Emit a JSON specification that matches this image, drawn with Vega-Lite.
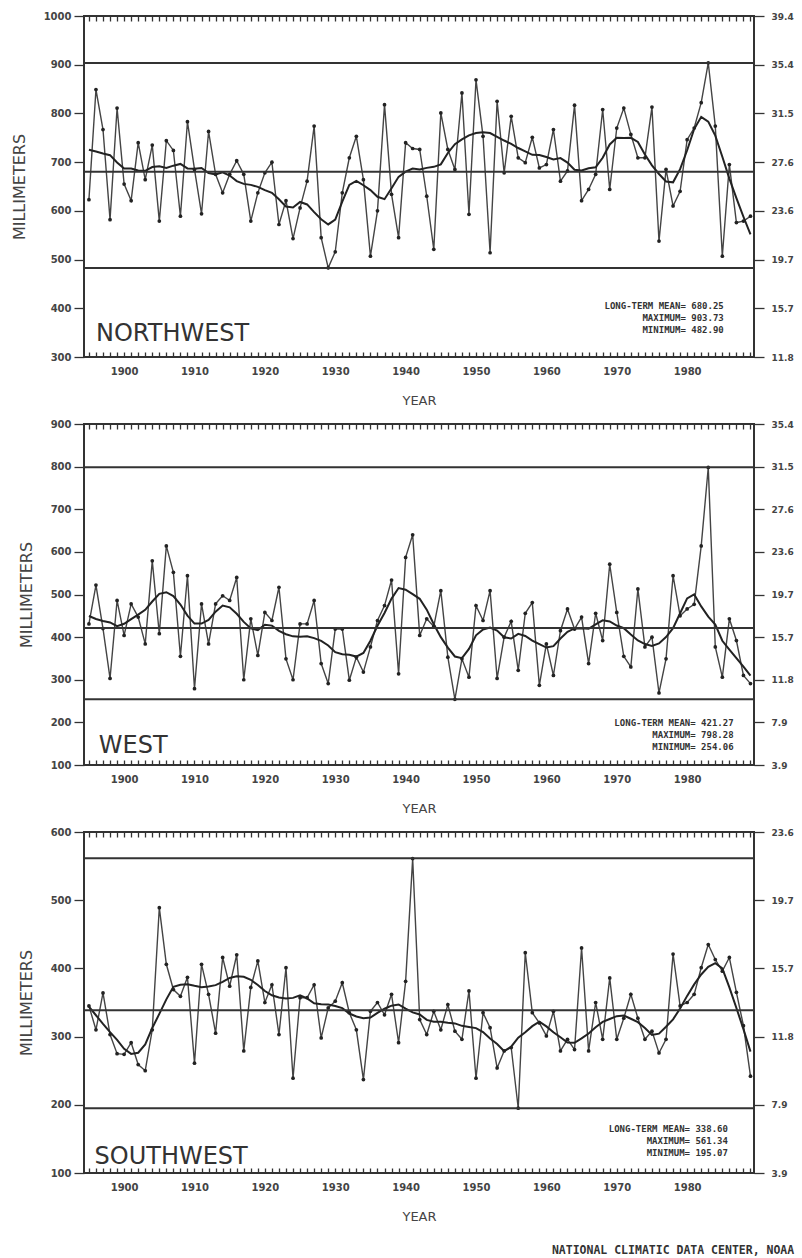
{
  "$schema": "https://vega.github.io/schema/vega-lite/v6.json",
  "background": "white",
  "padding": {"left": 10, "top": 10, "right": 5, "bottom": 5},
  "spacing": 10,
  "title": {"text": "NATIONAL CLIMATIC DATA CENTER, NOAA", "orient": "bottom", "anchor": "end", "font": "DejaVu Sans Mono", "fontSize": 11.5, "fontWeight": "bold", "color": "#333", "offset": 21},
  "datasets": {
    "annual": [
      {"region":"NW","year":1895,"mm":623},{"region":"NW","year":1896,"mm":849},{"region":"NW","year":1897,"mm":767},{"region":"NW","year":1898,"mm":582},{"region":"NW","year":1899,"mm":811},
      {"region":"NW","year":1900,"mm":655},{"region":"NW","year":1901,"mm":621},{"region":"NW","year":1902,"mm":740},{"region":"NW","year":1903,"mm":664},{"region":"NW","year":1904,"mm":735},
      {"region":"NW","year":1905,"mm":579},{"region":"NW","year":1906,"mm":744},{"region":"NW","year":1907,"mm":724},{"region":"NW","year":1908,"mm":589},{"region":"NW","year":1909,"mm":783},
      {"region":"NW","year":1910,"mm":685},{"region":"NW","year":1911,"mm":594},{"region":"NW","year":1912,"mm":763},{"region":"NW","year":1913,"mm":675},{"region":"NW","year":1914,"mm":637},
      {"region":"NW","year":1915,"mm":675},{"region":"NW","year":1916,"mm":703},{"region":"NW","year":1917,"mm":675},{"region":"NW","year":1918,"mm":579},{"region":"NW","year":1919,"mm":637},
      {"region":"NW","year":1920,"mm":678},{"region":"NW","year":1921,"mm":700},{"region":"NW","year":1922,"mm":572},{"region":"NW","year":1923,"mm":621},{"region":"NW","year":1924,"mm":543},
      {"region":"NW","year":1925,"mm":606},{"region":"NW","year":1926,"mm":661},{"region":"NW","year":1927,"mm":774},{"region":"NW","year":1928,"mm":545},{"region":"NW","year":1929,"mm":483},
      {"region":"NW","year":1930,"mm":516},{"region":"NW","year":1931,"mm":637},{"region":"NW","year":1932,"mm":709},{"region":"NW","year":1933,"mm":753},{"region":"NW","year":1934,"mm":664},
      {"region":"NW","year":1935,"mm":507},{"region":"NW","year":1936,"mm":600},{"region":"NW","year":1937,"mm":818},{"region":"NW","year":1938,"mm":634},{"region":"NW","year":1939,"mm":545},
      {"region":"NW","year":1940,"mm":740},{"region":"NW","year":1941,"mm":728},{"region":"NW","year":1942,"mm":726},{"region":"NW","year":1943,"mm":630},{"region":"NW","year":1944,"mm":521},
      {"region":"NW","year":1945,"mm":801},{"region":"NW","year":1946,"mm":726},{"region":"NW","year":1947,"mm":685},{"region":"NW","year":1948,"mm":842},{"region":"NW","year":1949,"mm":593},
      {"region":"NW","year":1950,"mm":869},{"region":"NW","year":1951,"mm":753},{"region":"NW","year":1952,"mm":514},{"region":"NW","year":1953,"mm":825},{"region":"NW","year":1954,"mm":678},
      {"region":"NW","year":1955,"mm":794},{"region":"NW","year":1956,"mm":709},{"region":"NW","year":1957,"mm":699},{"region":"NW","year":1958,"mm":751},{"region":"NW","year":1959,"mm":688},
      {"region":"NW","year":1960,"mm":695},{"region":"NW","year":1961,"mm":767},{"region":"NW","year":1962,"mm":661},{"region":"NW","year":1963,"mm":682},{"region":"NW","year":1964,"mm":817},
      {"region":"NW","year":1965,"mm":621},{"region":"NW","year":1966,"mm":644},{"region":"NW","year":1967,"mm":675},{"region":"NW","year":1968,"mm":808},{"region":"NW","year":1969,"mm":644},
      {"region":"NW","year":1970,"mm":770},{"region":"NW","year":1971,"mm":811},{"region":"NW","year":1972,"mm":757},{"region":"NW","year":1973,"mm":709},{"region":"NW","year":1974,"mm":709},
      {"region":"NW","year":1975,"mm":813},{"region":"NW","year":1976,"mm":538},{"region":"NW","year":1977,"mm":685},{"region":"NW","year":1978,"mm":610},{"region":"NW","year":1979,"mm":640},
      {"region":"NW","year":1980,"mm":746},{"region":"NW","year":1981,"mm":770},{"region":"NW","year":1982,"mm":822},{"region":"NW","year":1983,"mm":904},{"region":"NW","year":1984,"mm":774},
      {"region":"NW","year":1985,"mm":507},{"region":"NW","year":1986,"mm":695},{"region":"NW","year":1987,"mm":576},{"region":"NW","year":1988,"mm":579},{"region":"NW","year":1989,"mm":589},

      {"region":"W","year":1895,"mm":431},{"region":"W","year":1896,"mm":522},{"region":"W","year":1897,"mm":420},{"region":"W","year":1898,"mm":303},{"region":"W","year":1899,"mm":486},
      {"region":"W","year":1900,"mm":404},{"region":"W","year":1901,"mm":478},{"region":"W","year":1902,"mm":447},{"region":"W","year":1903,"mm":384},{"region":"W","year":1904,"mm":579},
      {"region":"W","year":1905,"mm":408},{"region":"W","year":1906,"mm":614},{"region":"W","year":1907,"mm":552},{"region":"W","year":1908,"mm":355},{"region":"W","year":1909,"mm":544},
      {"region":"W","year":1910,"mm":279},{"region":"W","year":1911,"mm":478},{"region":"W","year":1912,"mm":384},{"region":"W","year":1913,"mm":478},{"region":"W","year":1914,"mm":497},
      {"region":"W","year":1915,"mm":486},{"region":"W","year":1916,"mm":540},{"region":"W","year":1917,"mm":300},{"region":"W","year":1918,"mm":443},{"region":"W","year":1919,"mm":357},
      {"region":"W","year":1920,"mm":458},{"region":"W","year":1921,"mm":439},{"region":"W","year":1922,"mm":517},{"region":"W","year":1923,"mm":349},{"region":"W","year":1924,"mm":300},
      {"region":"W","year":1925,"mm":431},{"region":"W","year":1926,"mm":431},{"region":"W","year":1927,"mm":486},{"region":"W","year":1928,"mm":338},{"region":"W","year":1929,"mm":291},
      {"region":"W","year":1930,"mm":419},{"region":"W","year":1931,"mm":419},{"region":"W","year":1932,"mm":299},{"region":"W","year":1933,"mm":353},{"region":"W","year":1934,"mm":318},
      {"region":"W","year":1935,"mm":377},{"region":"W","year":1936,"mm":439},{"region":"W","year":1937,"mm":474},{"region":"W","year":1938,"mm":534},{"region":"W","year":1939,"mm":314},
      {"region":"W","year":1940,"mm":587},{"region":"W","year":1941,"mm":640},{"region":"W","year":1942,"mm":404},{"region":"W","year":1943,"mm":443},{"region":"W","year":1944,"mm":425},
      {"region":"W","year":1945,"mm":509},{"region":"W","year":1946,"mm":353},{"region":"W","year":1947,"mm":254},{"region":"W","year":1948,"mm":349},{"region":"W","year":1949,"mm":306},
      {"region":"W","year":1950,"mm":474},{"region":"W","year":1951,"mm":439},{"region":"W","year":1952,"mm":509},{"region":"W","year":1953,"mm":303},{"region":"W","year":1954,"mm":400},
      {"region":"W","year":1955,"mm":437},{"region":"W","year":1956,"mm":322},{"region":"W","year":1957,"mm":456},{"region":"W","year":1958,"mm":481},{"region":"W","year":1959,"mm":287},
      {"region":"W","year":1960,"mm":384},{"region":"W","year":1961,"mm":310},{"region":"W","year":1962,"mm":415},{"region":"W","year":1963,"mm":466},{"region":"W","year":1964,"mm":419},
      {"region":"W","year":1965,"mm":447},{"region":"W","year":1966,"mm":338},{"region":"W","year":1967,"mm":456},{"region":"W","year":1968,"mm":392},{"region":"W","year":1969,"mm":571},
      {"region":"W","year":1970,"mm":458},{"region":"W","year":1971,"mm":355},{"region":"W","year":1972,"mm":330},{"region":"W","year":1973,"mm":513},{"region":"W","year":1974,"mm":377},
      {"region":"W","year":1975,"mm":400},{"region":"W","year":1976,"mm":269},{"region":"W","year":1977,"mm":349},{"region":"W","year":1978,"mm":544},{"region":"W","year":1979,"mm":450},
      {"region":"W","year":1980,"mm":466},{"region":"W","year":1981,"mm":477},{"region":"W","year":1982,"mm":614},{"region":"W","year":1983,"mm":798},{"region":"W","year":1984,"mm":377},
      {"region":"W","year":1985,"mm":306},{"region":"W","year":1986,"mm":443},{"region":"W","year":1987,"mm":392},{"region":"W","year":1988,"mm":310},{"region":"W","year":1989,"mm":291},

      {"region":"SW","year":1895,"mm":345},{"region":"SW","year":1896,"mm":310},{"region":"SW","year":1897,"mm":364},{"region":"SW","year":1898,"mm":303},{"region":"SW","year":1899,"mm":275},
      {"region":"SW","year":1900,"mm":274},{"region":"SW","year":1901,"mm":291},{"region":"SW","year":1902,"mm":259},{"region":"SW","year":1903,"mm":250},{"region":"SW","year":1904,"mm":310},
      {"region":"SW","year":1905,"mm":489},{"region":"SW","year":1906,"mm":406},{"region":"SW","year":1907,"mm":369},{"region":"SW","year":1908,"mm":359},{"region":"SW","year":1909,"mm":387},
      {"region":"SW","year":1910,"mm":261},{"region":"SW","year":1911,"mm":406},{"region":"SW","year":1912,"mm":362},{"region":"SW","year":1913,"mm":305},{"region":"SW","year":1914,"mm":416},
      {"region":"SW","year":1915,"mm":374},{"region":"SW","year":1916,"mm":420},{"region":"SW","year":1917,"mm":279},{"region":"SW","year":1918,"mm":372},{"region":"SW","year":1919,"mm":411},
      {"region":"SW","year":1920,"mm":350},{"region":"SW","year":1921,"mm":376},{"region":"SW","year":1922,"mm":303},{"region":"SW","year":1923,"mm":401},{"region":"SW","year":1924,"mm":239},
      {"region":"SW","year":1925,"mm":357},{"region":"SW","year":1926,"mm":357},{"region":"SW","year":1927,"mm":376},{"region":"SW","year":1928,"mm":298},{"region":"SW","year":1929,"mm":342},
      {"region":"SW","year":1930,"mm":352},{"region":"SW","year":1931,"mm":379},{"region":"SW","year":1932,"mm":335},{"region":"SW","year":1933,"mm":310},{"region":"SW","year":1934,"mm":237},
      {"region":"SW","year":1935,"mm":337},{"region":"SW","year":1936,"mm":350},{"region":"SW","year":1937,"mm":332},{"region":"SW","year":1938,"mm":362},{"region":"SW","year":1939,"mm":291},
      {"region":"SW","year":1940,"mm":381},{"region":"SW","year":1941,"mm":561},{"region":"SW","year":1942,"mm":325},{"region":"SW","year":1943,"mm":303},{"region":"SW","year":1944,"mm":337},
      {"region":"SW","year":1945,"mm":310},{"region":"SW","year":1946,"mm":347},{"region":"SW","year":1947,"mm":308},{"region":"SW","year":1948,"mm":296},{"region":"SW","year":1949,"mm":367},
      {"region":"SW","year":1950,"mm":239},{"region":"SW","year":1951,"mm":335},{"region":"SW","year":1952,"mm":313},{"region":"SW","year":1953,"mm":254},{"region":"SW","year":1954,"mm":279},
      {"region":"SW","year":1955,"mm":284},{"region":"SW","year":1956,"mm":195},{"region":"SW","year":1957,"mm":423},{"region":"SW","year":1958,"mm":335},{"region":"SW","year":1959,"mm":320},
      {"region":"SW","year":1960,"mm":301},{"region":"SW","year":1961,"mm":337},{"region":"SW","year":1962,"mm":279},{"region":"SW","year":1963,"mm":296},{"region":"SW","year":1964,"mm":281},
      {"region":"SW","year":1965,"mm":430},{"region":"SW","year":1966,"mm":279},{"region":"SW","year":1967,"mm":350},{"region":"SW","year":1968,"mm":296},{"region":"SW","year":1969,"mm":386},
      {"region":"SW","year":1970,"mm":296},{"region":"SW","year":1971,"mm":327},{"region":"SW","year":1972,"mm":362},{"region":"SW","year":1973,"mm":327},{"region":"SW","year":1974,"mm":296},
      {"region":"SW","year":1975,"mm":308},{"region":"SW","year":1976,"mm":276},{"region":"SW","year":1977,"mm":296},{"region":"SW","year":1978,"mm":421},{"region":"SW","year":1979,"mm":345},
      {"region":"SW","year":1980,"mm":350},{"region":"SW","year":1981,"mm":362},{"region":"SW","year":1982,"mm":401},{"region":"SW","year":1983,"mm":435},{"region":"SW","year":1984,"mm":413},
      {"region":"SW","year":1985,"mm":396},{"region":"SW","year":1986,"mm":416},{"region":"SW","year":1987,"mm":365},{"region":"SW","year":1988,"mm":316},{"region":"SW","year":1989,"mm":242}
    ]
  },
  "vconcat": [
    {
      "width": 670, "height": 341,
      "layer": [
        {"data": {"name": "annual"}, "transform": [{"filter": "datum.region === 'NW'"}],
         "mark": {"type": "line", "color": "#444", "strokeWidth": 1.4},
         "encoding": {
           "x": {"field": "year", "type": "quantitative", "scale": {"domain": [1894.3, 1989.5], "nice": false, "zero": false},
                 "axis": {"orient": "bottom", "values": [1895,1896,1897,1898,1899,1900,1901,1902,1903,1904,1905,1906,1907,1908,1909,1910,1911,1912,1913,1914,1915,1916,1917,1918,1919,1920,1921,1922,1923,1924,1925,1926,1927,1928,1929,1930,1931,1932,1933,1934,1935,1936,1937,1938,1939,1940,1941,1942,1943,1944,1945,1946,1947,1948,1949,1950,1951,1952,1953,1954,1955,1956,1957,1958,1959,1960,1961,1962,1963,1964,1965,1966,1967,1968,1969,1970,1971,1972,1973,1974,1975,1976,1977,1978,1979,1980,1981,1982,1983,1984,1985,1986,1987,1988,1989],
                          "labelExpr": "datum.value % 10 === 0 ? toString(datum.value) : ''", "tickSize": -5, "title": "YEAR", "domain": false, "grid": false, "labelOverlap": false, "labelFlush": false}},
           "y": {"field": "mm", "type": "quantitative", "scale": {"domain": [300, 1000], "nice": false, "zero": false},
                 "axis": {"orient": "left", "values": [300,400,500,600,700,800,900,1000], "format": "d", "tickSize": 10, "title": "MILLIMETERS", "domain": false, "grid": false}}
         }},
        {"data": {"name": "annual"}, "transform": [{"filter": "datum.region === 'NW'"}],
         "mark": {"type": "point", "filled": true, "size": 14, "color": "#222", "opacity": 1},
         "encoding": {
           "x": {"field": "year", "type": "quantitative",
                 "axis": {"orient": "top", "values": [1895,1896,1897,1898,1899,1900,1901,1902,1903,1904,1905,1906,1907,1908,1909,1910,1911,1912,1913,1914,1915,1916,1917,1918,1919,1920,1921,1922,1923,1924,1925,1926,1927,1928,1929,1930,1931,1932,1933,1934,1935,1936,1937,1938,1939,1940,1941,1942,1943,1944,1945,1946,1947,1948,1949,1950,1951,1952,1953,1954,1955,1956,1957,1958,1959,1960,1961,1962,1963,1964,1965,1966,1967,1968,1969,1970,1971,1972,1973,1974,1975,1976,1977,1978,1979,1980,1981,1982,1983,1984,1985,1986,1987,1988,1989],
                          "labels": false, "tickSize": -5, "title": null, "domain": false, "grid": false}},
           "y": {"field": "mm", "type": "quantitative", "axis": null}
         }},
        {"data": {"name": "annual"}, "transform": [{"filter": "datum.region === 'NW'"}, {"loess": "mm", "on": "year", "bandwidth": 0.1}],
         "mark": {"type": "line", "color": "#222", "strokeWidth": 2},
         "encoding": {"x": {"field": "year", "type": "quantitative", "axis": null}, "y": {"field": "mm", "type": "quantitative", "axis": null}}},
        {"data": {"values": [{"stat": "mean", "mm": 680.25}, {"stat": "max", "mm": 903.73}, {"stat": "min", "mm": 482.90}]},
         "mark": {"type": "rule", "color": "#333", "strokeWidth": 2},
         "encoding": {"y": {"field": "mm", "type": "quantitative",
                 "axis": {"orient": "right", "values": [300,400,500,600,700,800,900,1000], "labelExpr": "format(datum.value / 25.4, '.1f')", "tickSize": 10, "title": null, "domain": false, "grid": false}}}},
        {"data": {"values": [{}]},
         "mark": {"type": "text", "align": "left", "baseline": "alphabetic", "font": "DejaVu Sans", "fontSize": 24, "color": "#333", "text": "NORTHWEST"},
         "encoding": {"x": {"datum": 1896, "type": "quantitative", "axis": null}, "y": {"datum": 333, "type": "quantitative", "axis": null}}},
        {"data": {"values": [{}]},
         "mark": {"type": "text", "align": "right", "baseline": "top", "font": "DejaVu Sans Mono", "fontSize": 9, "fontWeight": "bold", "lineHeight": 12, "color": "#333",
                  "text": ["LONG-TERM MEAN= 680.25", "MAXIMUM= 903.73", "MINIMUM= 482.90"]},
         "encoding": {"x": {"datum": 1985.2, "type": "quantitative", "axis": null}, "y": {"datum": 413, "type": "quantitative", "axis": null}}}
      ],
      "resolve": {"axis": {"x": "independent", "y": "independent"}}
    },
    {
      "width": 670, "height": 341,
      "layer": [
        {"data": {"name": "annual"}, "transform": [{"filter": "datum.region === 'W'"}],
         "mark": {"type": "line", "color": "#444", "strokeWidth": 1.4},
         "encoding": {
           "x": {"field": "year", "type": "quantitative", "scale": {"domain": [1894.3, 1989.5], "nice": false, "zero": false},
                 "axis": {"orient": "bottom", "values": [1895,1896,1897,1898,1899,1900,1901,1902,1903,1904,1905,1906,1907,1908,1909,1910,1911,1912,1913,1914,1915,1916,1917,1918,1919,1920,1921,1922,1923,1924,1925,1926,1927,1928,1929,1930,1931,1932,1933,1934,1935,1936,1937,1938,1939,1940,1941,1942,1943,1944,1945,1946,1947,1948,1949,1950,1951,1952,1953,1954,1955,1956,1957,1958,1959,1960,1961,1962,1963,1964,1965,1966,1967,1968,1969,1970,1971,1972,1973,1974,1975,1976,1977,1978,1979,1980,1981,1982,1983,1984,1985,1986,1987,1988,1989],
                          "labelExpr": "datum.value % 10 === 0 ? toString(datum.value) : ''", "tickSize": -5, "title": "YEAR", "domain": false, "grid": false, "labelOverlap": false, "labelFlush": false}},
           "y": {"field": "mm", "type": "quantitative", "scale": {"domain": [100, 900], "nice": false, "zero": false},
                 "axis": {"orient": "left", "values": [100,200,300,400,500,600,700,800,900], "format": "d", "tickSize": 10, "title": "MILLIMETERS", "domain": false, "grid": false}}
         }},
        {"data": {"name": "annual"}, "transform": [{"filter": "datum.region === 'W'"}],
         "mark": {"type": "point", "filled": true, "size": 14, "color": "#222", "opacity": 1},
         "encoding": {
           "x": {"field": "year", "type": "quantitative",
                 "axis": {"orient": "top", "values": [1895,1896,1897,1898,1899,1900,1901,1902,1903,1904,1905,1906,1907,1908,1909,1910,1911,1912,1913,1914,1915,1916,1917,1918,1919,1920,1921,1922,1923,1924,1925,1926,1927,1928,1929,1930,1931,1932,1933,1934,1935,1936,1937,1938,1939,1940,1941,1942,1943,1944,1945,1946,1947,1948,1949,1950,1951,1952,1953,1954,1955,1956,1957,1958,1959,1960,1961,1962,1963,1964,1965,1966,1967,1968,1969,1970,1971,1972,1973,1974,1975,1976,1977,1978,1979,1980,1981,1982,1983,1984,1985,1986,1987,1988,1989],
                          "labels": false, "tickSize": -5, "title": null, "domain": false, "grid": false}},
           "y": {"field": "mm", "type": "quantitative", "axis": null}
         }},
        {"data": {"name": "annual"}, "transform": [{"filter": "datum.region === 'W'"}, {"loess": "mm", "on": "year", "bandwidth": 0.1}],
         "mark": {"type": "line", "color": "#222", "strokeWidth": 2},
         "encoding": {"x": {"field": "year", "type": "quantitative", "axis": null}, "y": {"field": "mm", "type": "quantitative", "axis": null}}},
        {"data": {"values": [{"stat": "mean", "mm": 421.27}, {"stat": "max", "mm": 798.28}, {"stat": "min", "mm": 254.06}]},
         "mark": {"type": "rule", "color": "#333", "strokeWidth": 2},
         "encoding": {"y": {"field": "mm", "type": "quantitative",
                 "axis": {"orient": "right", "values": [100,200,300,400,500,600,700,800,900], "labelExpr": "format(datum.value / 25.4, '.1f')", "tickSize": 10, "title": null, "domain": false, "grid": false}}}},
        {"data": {"values": [{}]},
         "mark": {"type": "text", "align": "left", "baseline": "alphabetic", "font": "DejaVu Sans", "fontSize": 24, "color": "#333", "text": "WEST"},
         "encoding": {"x": {"datum": 1896.4, "type": "quantitative", "axis": null}, "y": {"datum": 128, "type": "quantitative", "axis": null}}},
        {"data": {"values": [{}]},
         "mark": {"type": "text", "align": "right", "baseline": "top", "font": "DejaVu Sans Mono", "fontSize": 9, "fontWeight": "bold", "lineHeight": 12, "color": "#333",
                  "text": ["LONG-TERM MEAN= 421.27", "MAXIMUM= 798.28", "MINIMUM= 254.06"]},
         "encoding": {"x": {"datum": 1986.6, "type": "quantitative", "axis": null}, "y": {"datum": 208, "type": "quantitative", "axis": null}}}
      ],
      "resolve": {"axis": {"x": "independent", "y": "independent"}}
    },
    {
      "width": 670, "height": 341,
      "layer": [
        {"data": {"name": "annual"}, "transform": [{"filter": "datum.region === 'SW'"}],
         "mark": {"type": "line", "color": "#444", "strokeWidth": 1.4},
         "encoding": {
           "x": {"field": "year", "type": "quantitative", "scale": {"domain": [1894.3, 1989.5], "nice": false, "zero": false},
                 "axis": {"orient": "bottom", "values": [1895,1896,1897,1898,1899,1900,1901,1902,1903,1904,1905,1906,1907,1908,1909,1910,1911,1912,1913,1914,1915,1916,1917,1918,1919,1920,1921,1922,1923,1924,1925,1926,1927,1928,1929,1930,1931,1932,1933,1934,1935,1936,1937,1938,1939,1940,1941,1942,1943,1944,1945,1946,1947,1948,1949,1950,1951,1952,1953,1954,1955,1956,1957,1958,1959,1960,1961,1962,1963,1964,1965,1966,1967,1968,1969,1970,1971,1972,1973,1974,1975,1976,1977,1978,1979,1980,1981,1982,1983,1984,1985,1986,1987,1988,1989],
                          "labelExpr": "datum.value % 10 === 0 ? toString(datum.value) : ''", "tickSize": -5, "title": "YEAR", "domain": false, "grid": false, "labelOverlap": false, "labelFlush": false}},
           "y": {"field": "mm", "type": "quantitative", "scale": {"domain": [100, 600], "nice": false, "zero": false},
                 "axis": {"orient": "left", "values": [100,200,300,400,500,600], "format": "d", "tickSize": 10, "title": "MILLIMETERS", "domain": false, "grid": false}}
         }},
        {"data": {"name": "annual"}, "transform": [{"filter": "datum.region === 'SW'"}],
         "mark": {"type": "point", "filled": true, "size": 14, "color": "#222", "opacity": 1},
         "encoding": {
           "x": {"field": "year", "type": "quantitative",
                 "axis": {"orient": "top", "values": [1895,1896,1897,1898,1899,1900,1901,1902,1903,1904,1905,1906,1907,1908,1909,1910,1911,1912,1913,1914,1915,1916,1917,1918,1919,1920,1921,1922,1923,1924,1925,1926,1927,1928,1929,1930,1931,1932,1933,1934,1935,1936,1937,1938,1939,1940,1941,1942,1943,1944,1945,1946,1947,1948,1949,1950,1951,1952,1953,1954,1955,1956,1957,1958,1959,1960,1961,1962,1963,1964,1965,1966,1967,1968,1969,1970,1971,1972,1973,1974,1975,1976,1977,1978,1979,1980,1981,1982,1983,1984,1985,1986,1987,1988,1989],
                          "labels": false, "tickSize": -5, "title": null, "domain": false, "grid": false}},
           "y": {"field": "mm", "type": "quantitative", "axis": null}
         }},
        {"data": {"name": "annual"}, "transform": [{"filter": "datum.region === 'SW'"}, {"loess": "mm", "on": "year", "bandwidth": 0.1}],
         "mark": {"type": "line", "color": "#222", "strokeWidth": 2},
         "encoding": {"x": {"field": "year", "type": "quantitative", "axis": null}, "y": {"field": "mm", "type": "quantitative", "axis": null}}},
        {"data": {"values": [{"stat": "mean", "mm": 338.60}, {"stat": "max", "mm": 561.34}, {"stat": "min", "mm": 195.07}]},
         "mark": {"type": "rule", "color": "#333", "strokeWidth": 2},
         "encoding": {"y": {"field": "mm", "type": "quantitative",
                 "axis": {"orient": "right", "values": [100,200,300,400,500,600], "labelExpr": "format(datum.value / 25.4, '.1f')", "tickSize": 10, "title": null, "domain": false, "grid": false}}}},
        {"data": {"values": [{}]},
         "mark": {"type": "text", "align": "left", "baseline": "alphabetic", "font": "DejaVu Sans", "fontSize": 24, "color": "#333", "text": "SOUTHWEST"},
         "encoding": {"x": {"datum": 1895.8, "type": "quantitative", "axis": null}, "y": {"datum": 113, "type": "quantitative", "axis": null}}},
        {"data": {"values": [{}]},
         "mark": {"type": "text", "align": "right", "baseline": "top", "font": "DejaVu Sans Mono", "fontSize": 9, "fontWeight": "bold", "lineHeight": 12, "color": "#333",
                  "text": ["LONG-TERM MEAN= 338.60", "MAXIMUM= 561.34", "MINIMUM= 195.07"]},
         "encoding": {"x": {"datum": 1985.8, "type": "quantitative", "axis": null}, "y": {"datum": 170, "type": "quantitative", "axis": null}}}
      ],
      "resolve": {"axis": {"x": "independent", "y": "independent"}}
    }
  ],
  "config": {
    "view": {"stroke": "#333", "strokeWidth": 2},
    "axis": {"labelFont": "DejaVu Sans", "labelFontSize": 10, "labelFontWeight": "bold", "labelColor": "#444", "tickColor": "#333", "tickWidth": 1.3, "titleFont": "DejaVu Sans", "titleFontWeight": "normal", "titleColor": "#444"},
    "axisLeft": {"titleFontSize": 16, "titlePadding": 16, "labelPadding": 3},
    "axisRight": {"labelPadding": 7, "labelFontSize": 9},
    "axisBottom": {"titleFontSize": 13, "titlePadding": 18, "labelPadding": 14}
  }
}
